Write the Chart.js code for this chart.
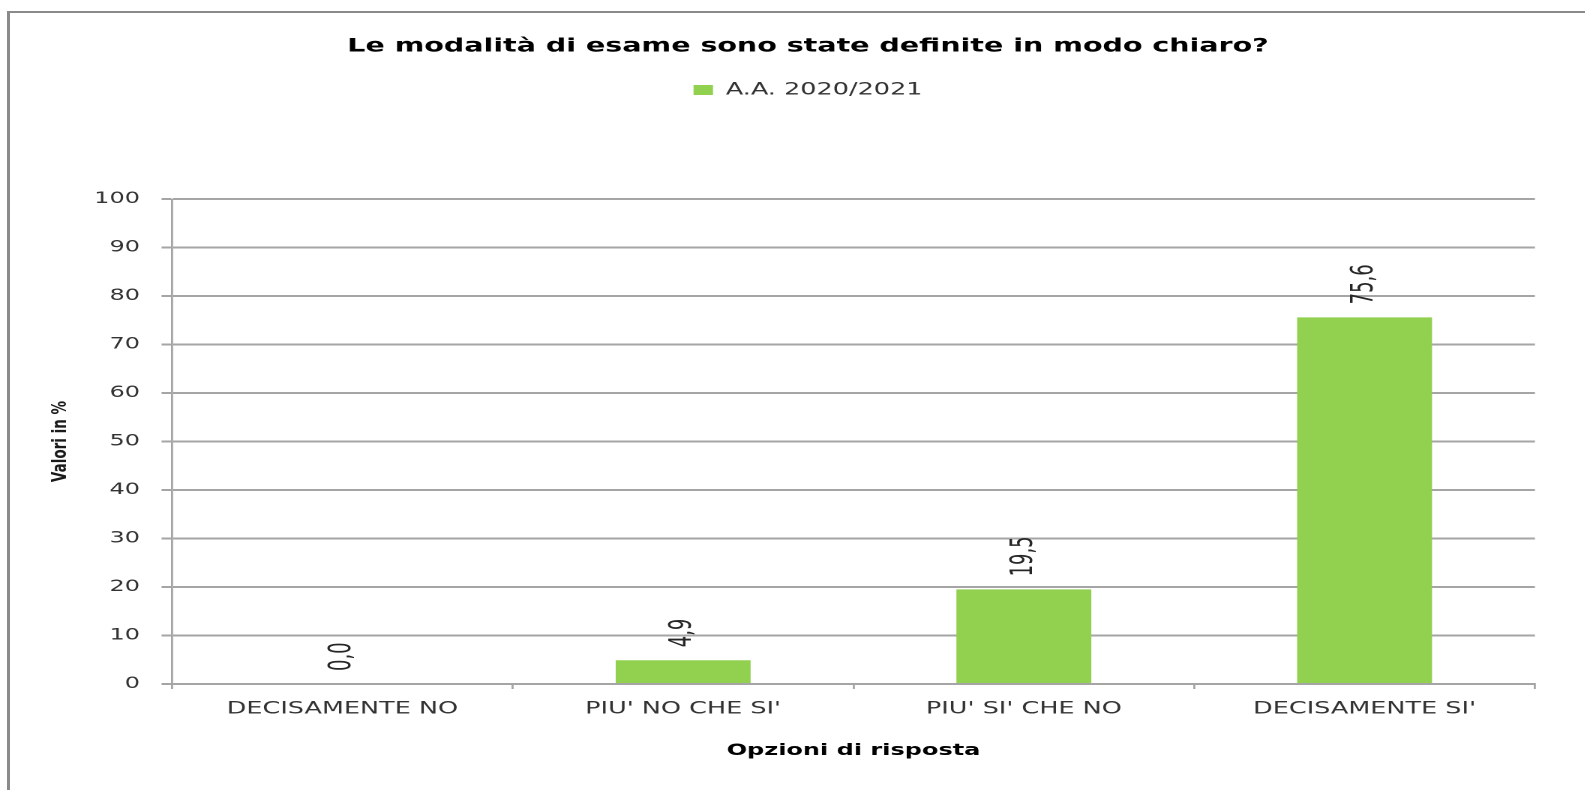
<!DOCTYPE html>
<html>
<head>
<meta charset="utf-8">
<script src="https://cdn.jsdelivr.net/npm/chart.js@4.4.1/dist/chart.umd.min.js"></script>
<style>
  html, body { margin: 0; padding: 0; background: #ffffff; overflow: hidden; }
  body { width: 1585px; height: 790px; position: relative; }
  #frame {
    position: absolute; left: 7px; top: 11px; width: 1600px; height: 800px;
    border-left: 3px solid #8a8a8a; border-top: 2px solid #8a8a8a;
    box-sizing: border-box;
  }
  #wrap {
    position: absolute; left: 0; top: 0; width: 1057px; height: 790px;
    transform: scaleX(1.5); transform-origin: 0 0;
  }
</style>
</head>
<body>
<div id="frame"></div>
<div id="wrap"><canvas id="c" width="1057" height="790"></canvas></div>
<script>
// ---- data ----
const chartTitle = 'Le modalità di esame sono state definite in modo chiaro?';
const seriesLabel = 'A.A. 2020/2021';
const categories = ['DECISAMENTE NO', "PIU' NO CHE SI'", "PIU' SI' CHE NO", "DECISAMENTE SI'"];
const values = [0.0, 4.9, 19.5, 75.6];
const yMin = 0;
const yMax = 100;
const yStep = 10;
const xTitle = 'Opzioni di risposta';
const yTitle = 'Valori in %';

const fmt = v => v.toFixed(1).replace('.', ',');

const legendGap = {
  id: 'legendGap',
  beforeUpdate(chart) {
    const lg = chart.legend;
    if (lg && !lg._gapPatched) {
      const orig = lg.fit;
      lg.fit = function () { orig.call(this); this.height += 90.5; };
      lg._gapPatched = true;
    }
  }
};

const valueLabels = {
  id: 'valueLabels',
  afterDatasetsDraw(chart) {
    const ctx = chart.ctx;
    const meta = chart.getDatasetMeta(0);
    const data = chart.data.datasets[0].data;
    ctx.save();
    ctx.font = '20px "Liberation Sans Narrow", "DejaVu Sans Condensed", "Liberation Sans", sans-serif';
    ctx.fillStyle = '#262626';
    ctx.textAlign = 'left';
    ctx.textBaseline = 'middle';
    meta.data.forEach((bar, i) => {
      ctx.save();
      ctx.translate(bar.x, bar.y - 13);
      ctx.rotate(-Math.PI / 2);
      ctx.fillText(fmt(data[i]), 0, 0);
      ctx.restore();
    });
    ctx.restore();
  }
};

const gridColor = '#a5a5a5';

new Chart(document.getElementById('c'), {
  type: 'bar',
  data: {
    labels: categories,
    datasets: [{
      label: seriesLabel,
      data: values,
      backgroundColor: '#92d050',
      borderWidth: 0,
      categoryPercentage: 1.0,
      barPercentage: 0.396
    }]
  },
  options: {
    responsive: false,
    animation: false,
    devicePixelRatio: 2,
    layout: { padding: { left: 54, right: 33.7, top: 0, bottom: 0 } },
    plugins: {
      title: {
        display: true,
        text: chartTitle,
        color: '#000000',
        font: { family: '"DejaVu Sans", sans-serif', size: 19, weight: 'bold' },
        padding: { top: 35, bottom: 13.7 }
      },
      legend: {
        display: true,
        position: 'top',
        labels: {
          color: '#333333',
          font: { family: '"DejaVu Sans", sans-serif', size: 17 },
          boxWidth: 13,
          boxHeight: 10,
          padding: 10
        }
      },
      tooltip: { enabled: false }
    },
    scales: {
      x: {
        grid: {
          display: true,
          drawOnChartArea: false,
          drawTicks: true,
          tickLength: 5,
          color: gridColor,
          lineWidth: 1.4,
          offset: true
        },
        border: { display: true, color: gridColor, width: 2 },
        ticks: {
          color: '#333333',
          font: { family: '"DejaVu Sans", sans-serif', size: 17 },
          padding: 10,
          maxRotation: 0,
          autoSkip: false
        },
        title: {
          display: true,
          text: xTitle,
          color: '#000000',
          font: { family: '"DejaVu Sans", sans-serif', size: 16, weight: 'bold' },
          padding: { top: 0, bottom: 29.4 }
        },
        afterFit(scale) { scale.height = 106; }
      },
      y: {
        min: yMin,
        max: yMax,
        grid: {
          color: gridColor,
          lineWidth: 2,
          tickLength: 7,
          drawTicks: true
        },
        border: { display: true, color: gridColor, width: 1.4 },
        ticks: {
          stepSize: yStep,
          color: '#333333',
          font: { family: '"DejaVu Sans", sans-serif', size: 16 },
          padding: 14.4
        },
        title: {
          display: true,
          text: yTitle,
          color: '#1a1a1a',
          font: { family: '"DejaVu Sans", sans-serif', size: 13.5, weight: 'bold' },
          padding: { top: -21.4, bottom: 0 }
        },
        afterFit(scale) { scale.width = 60.7; }
      }
    }
  },
  plugins: [legendGap, valueLabels]
});
</script>
</body>
</html>
